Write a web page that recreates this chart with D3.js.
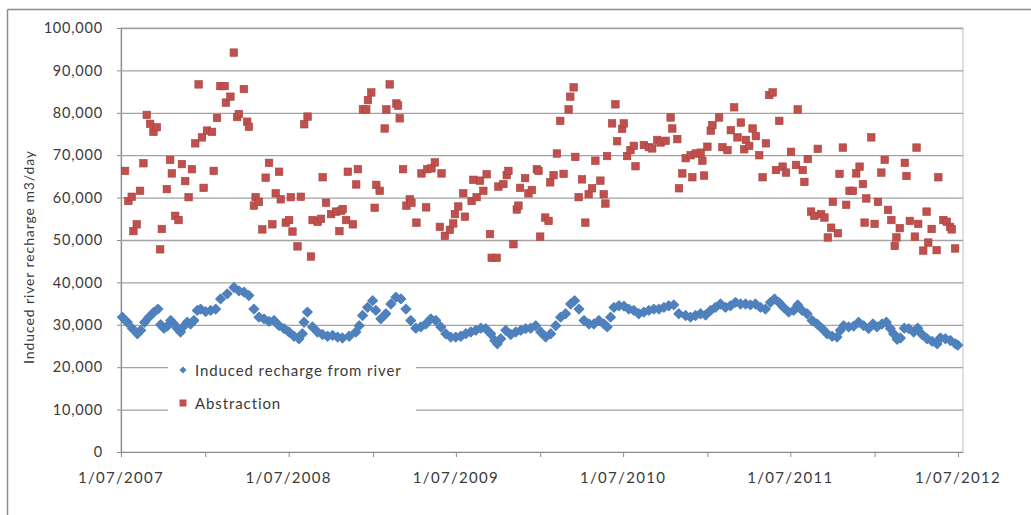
<!DOCTYPE html>
<html><head><meta charset="utf-8">
<script src="https://cdn.jsdelivr.net/npm/d3@7"></script>
<style>
body{margin:0;background:#fff;}
svg{display:block;}
text{font-family:Lato,"Open Sans",sans-serif;}
</style>
</head><body>
<svg id="chart" width="1031" height="515"></svg>
<script>
// ---------- data ----------
const seriesNames = ["Induced recharge from river", "Abstraction"];
const yTickValues = [0,10000,20000,30000,40000,50000,60000,70000,80000,90000,100000];
const xTickDates = ["2007-07-01","2008-01-01","2008-07-01","2009-01-01","2009-07-01","2010-01-01","2010-07-01","2011-01-01","2011-07-01","2012-01-01","2012-07-01"];
const xLabelDates = ["2007-07-01","2008-07-01","2009-07-01","2010-07-01","2011-07-01","2012-07-01"];
const yTitle = "Induced river recharge m3/day";

// time in decimal years, value m3/day
const rechargeT = [2007.504,2007.534,2007.564,2007.594,2007.614,2007.637,2007.663,2007.693,2007.717,2007.733,2007.753,2007.773,2007.793,2007.812,2007.833,2007.852,2007.872,2007.892,2007.912,2007.932,2007.952,2007.972,2008.002,2008.032,2008.062,2008.091,2008.131,2008.171,2008.201,2008.231,2008.260,2008.290,2008.320,2008.350,2008.380,2008.410,2008.440,2008.470,2008.499,2008.529,2008.559,2008.579,2008.589,2008.609,2008.639,2008.669,2008.699,2008.729,2008.759,2008.789,2008.818,2008.858,
2008.898,2008.918,2008.938,2008.968,2008.998,2009.017,2009.047,2009.077,2009.107,2009.137,2009.167,2009.197,2009.226,2009.256,2009.286,2009.316,2009.346,2009.376,2009.406,2009.435,2009.465,2009.495,2009.525,2009.555,2009.585,2009.615,2009.645,2009.674,2009.704,2009.728,2009.744,2009.764,2009.794,2009.824,2009.854,2009.884,2009.913,2009.943,2009.973,2010.003,2010.033,2010.063,2010.093,2010.122,2010.152,2010.182,2010.206,2010.232,2010.262,2010.292,2010.321,2010.351,2010.381,2010.401,2010.421,2010.441,2010.471,2010.501,2010.530,2010.560,2010.590,2010.620,2010.650,2010.680,2010.710,2010.740,2010.769,2010.799,2010.829,
2010.869,2010.899,2010.929,2010.959,2010.989,2011.019,2011.048,2011.078,2011.108,2011.138,2011.168,2011.198,2011.228,2011.257,2011.287,2011.317,2011.347,2011.377,2011.401,2011.427,2011.456,2011.486,2011.516,2011.540,2011.566,2011.596,2011.626,2011.656,2011.686,2011.716,2011.746,2011.775,2011.795,2011.815,2011.845,2011.875,2011.904,2011.934,2011.964,2011.990,2012.014,2012.044,2012.070,2012.094,2012.113,2012.134,2012.154,2012.177,2012.203,2012.233,2012.257,2012.283,2012.313,2012.343,2012.373,2012.392,2012.422,2012.452,2012.482,2012.496];
const rechargeV = [31800,30600,29100,27900,28700,30600,31800,33000,33700,30000,29200,29700,31000,30200,29100,28300,29700,30600,30200,31000,33400,33700,33100,33400,33700,36100,37300,38800,38000,37700,36900,33700,31800,31400,30800,31000,29800,29100,28300,27300,26700,27900,30600,33000,29500,28300,27700,27300,27500,27100,26900,27300,
28300,29800,32200,34100,35700,33400,31400,32600,34900,36500,36100,33700,31000,29200,29500,30200,31400,31000,29500,27900,27100,27100,27300,27900,28300,28700,29200,29100,27900,26300,25500,26700,28700,27700,28300,28700,29100,29200,29800,28300,27100,27900,29800,31800,32600,34900,35700,33700,31000,30200,30200,31000,30200,29500,31800,34100,34500,34400,33700,33400,32600,33000,33400,33700,33700,34100,34500,34700,32600,
32200,31800,32200,32600,32300,33400,34100,34900,34100,34500,35300,34900,34900,34700,34900,34100,33700,35300,36100,35300,34100,33000,33400,34700,33400,32600,31000,30200,29100,27900,27300,27100,28700,29800,29500,29700,30600,29800,29100,30200,29500,30200,30600,29100,27900,26600,26900,29200,29100,28300,29200,27700,26700,26100,25500,26900,26700,26300,25500,25200];

const abstractionT = [2007.52,2007.54,2007.56,2007.57,2007.59,2007.61,2007.63,2007.65,2007.67,2007.69,2007.71,2007.73,2007.74,2007.77,2007.79,2007.80,2007.82,2007.84,2007.86,2007.88,2007.90,2007.92,2007.94,2007.96,2007.98,2007.99,2008.01,2008.04,2008.05,2008.07,2008.09,2008.115,2008.123,2008.15,2008.17,2008.19,2008.20,2008.23,2008.25,2008.26,2008.29,2008.30,2008.32,2008.34,2008.36,2008.38,2008.40,2008.42,2008.44,2008.45,2008.48,2008.50,2008.51,2008.52,2008.55,2008.57,2008.59,2008.61,2008.63,2008.64,2008.67,2008.69,2008.70,2008.72,2008.75,2008.78,2008.80,2008.81,2008.82,2008.84,2008.85,2008.88,2008.90,2008.91,2008.94,2008.96,2008.97,2008.99,
2009.01,2009.02,2009.04,2009.07,2009.08,2009.10,2009.14,2009.15,2009.16,2009.18,2009.20,2009.22,2009.23,2009.26,2009.29,2009.318,2009.325,2009.35,2009.37,2009.40,2009.41,2009.43,2009.46,2009.48,2009.49,2009.51,2009.54,2009.55,2009.59,2009.60,2009.62,2009.64,2009.66,2009.68,2009.70,2009.71,2009.74,2009.75,2009.78,2009.80,2009.81,2009.84,2009.86,2009.87,2009.88,2009.91,2009.93,2009.95,2009.98,2009.99,
2010.00,2010.03,2010.05,2010.06,2010.08,2010.10,2010.12,2010.14,2010.17,2010.18,2010.20,2010.21,2010.23,2010.25,2010.27,2010.29,2010.31,2010.33,2010.36,2010.38,2010.39,2010.40,2010.43,2010.45,2010.46,2010.49,2010.50,2010.52,2010.54,2010.56,2010.57,2010.62,2010.65,2010.67,2010.70,2010.72,2010.75,2010.78,2010.79,2010.82,2010.83,2010.85,2010.87,2010.90,2010.91,2010.93,2010.96,2010.97,2010.98,
2011.00,2011.02,2011.03,2011.07,2011.09,2011.12,2011.14,2011.16,2011.18,2011.20,2011.22,2011.23,2011.25,2011.27,2011.29,2011.31,2011.33,2011.35,2011.37,2011.39,2011.41,2011.43,2011.45,2011.47,2011.50,2011.53,2011.54,2011.57,2011.58,2011.60,2011.62,2011.64,2011.66,2011.68,2011.70,2011.72,2011.74,2011.75,2011.78,2011.79,2011.81,2011.83,2011.85,2011.87,2011.89,2011.91,2011.93,2011.94,2011.95,2011.98,
2012.00,2012.02,2012.04,2012.06,2012.08,2012.10,2012.12,2012.13,2012.15,2012.18,2012.19,2012.21,2012.24,2012.25,2012.26,2012.29,2012.31,2012.32,2012.34,2012.37,2012.38,2012.41,2012.43,2012.45,2012.46,2012.48];
const abstractionV = [66300,59200,60200,52100,53700,61600,68100,79500,77400,75500,76600,47800,52600,62000,68900,65700,55700,54700,67900,63900,60100,66700,72800,86700,74200,62300,75800,75500,66300,78800,86300,86300,82400,83800,94200,79000,79700,85600,77900,76700,58100,60100,59000,52500,64700,68200,53700,61000,66100,59600,54100,54700,60100,52000,48500,60200,77300,79100,46100,54700,54300,55000,64800,58800,56100,56700,52100,56900,57300,54700,66100,53700,63100,66700,80800,80800,83000,84800,
57600,63000,61600,76300,80800,86700,82200,81700,78700,66700,58100,59600,58800,54100,65700,57700,66700,66900,68300,53100,65700,51000,52400,53900,56100,57900,61000,55500,59200,64200,60100,64000,61600,65500,51400,45800,45800,62600,63200,65300,66300,49000,57200,58100,62300,64600,61000,61800,66700,66300,
50800,55300,54500,63600,65300,70400,78100,65600,80800,83800,86000,69600,60100,64300,54100,60800,62200,68700,64000,60800,58600,69800,77500,82000,73300,76200,77500,69800,71200,72200,67400,72400,71900,71600,73600,73000,73400,78900,76300,73800,62200,65700,69300,70000,64800,70400,70600,68700,65200,
72000,75800,77100,78900,71900,71200,75900,81300,74200,77700,71400,73600,72200,76300,74500,70000,64800,72800,84200,84800,66500,78100,67300,65900,70800,67700,80800,66500,63700,69100,56700,55700,71500,56100,55300,50600,52900,59000,51600,65600,71800,58300,61600,61600,65700,67300,63200,54100,59800,74200,
53800,59000,65900,68900,57100,54700,48600,50600,52800,68200,65100,54500,50800,71800,53800,47500,56700,49400,52600,47600,64800,54700,54300,53100,52500,48000];

// ---------- helpers ----------
function decYear(t){
  const y = Math.floor(t);
  const s = Date.UTC(y,0,1), e = Date.UTC(y+1,0,1);
  return new Date(s + (t - y) * (e - s));
}
const parse = d3.utcParse("%Y-%m-%d");
const fmtLabel = d => "1/" + d3.utcFormat("%m")(d) + "/" + d3.utcFormat("%Y")(d);

const recharge = rechargeT.map((t,i)=>({date:decYear(t), value:rechargeV[i]}));
const abstraction = abstractionT.map((t,i)=>({date:decYear(t), value:abstractionV[i]}));

// ---------- layout ----------
const svg = d3.select("#chart");
const plot = {left:121, right:963, top:28, bottom:452};
const x = d3.scaleUtc().domain([parse("2007-07-01"), parse("2012-07-01")]).range([121, 958]);
const y = d3.scaleLinear().domain([0, 100000]).range([plot.bottom, plot.top]);
const blue = "#4F81BD", red = "#C0504D", textCol = "#3a3a3a";

// outer frame (top & left edges visible)
svg.append("line").attr("x1",7.5).attr("x2",1031).attr("y1",9.5).attr("y2",9.5).attr("stroke","#8c8c8c").attr("stroke-width",1.5);
svg.append("line").attr("x1",7.5).attr("x2",7.5).attr("y1",9.5).attr("y2",515).attr("stroke","#8c8c8c").attr("stroke-width",1.5);

// plot area border (top & right)
svg.append("rect").attr("x",plot.left).attr("y",plot.top).attr("width",plot.right-plot.left).attr("height",plot.bottom-plot.top)
  .attr("fill","none").attr("stroke","#d4d4d4").attr("stroke-width",1.5);

// y axis with gridlines
const yAxis = d3.axisLeft(y).tickValues(yTickValues).tickSize(4).tickFormat(d3.format(","));
const gy = svg.append("g").attr("transform",`translate(${plot.left},0)`).call(yAxis);
gy.select(".domain").attr("stroke","#8c8c8c").attr("stroke-width",1.2);
gy.selectAll(".tick line").attr("stroke","#8c8c8c");
gy.selectAll(".tick text").attr("x",-18).attr("fill",textCol).style("font-size","14.5px").style("letter-spacing","0.8px");
gy.selectAll(".tick").filter(d=>d>0).append("line")
  .attr("x1",0).attr("x2",plot.right-plot.left).attr("stroke","#a3a3a3").attr("stroke-width",1.3);

// x axis
const xAxis = d3.axisBottom(x).tickValues(xTickDates.map(parse)).tickSize(5).tickFormat(()=> "");
const gx = svg.append("g").attr("transform",`translate(0,${plot.bottom})`).call(xAxis);
gx.select(".domain").attr("d",`M${plot.left},0.5H${plot.right}`).attr("stroke","#8c8c8c").attr("stroke-width",1.2);
gx.selectAll(".tick line").attr("stroke","#8c8c8c");
svg.append("g").selectAll("text").data(xLabelDates.map(parse)).join("text")
  .attr("x",d=>x(d)).attr("y",483).attr("text-anchor","middle")
  .attr("fill",textCol).style("font-size","15px").style("letter-spacing","1.3px")
  .text(fmtLabel);

// y title
svg.append("text").attr("transform","translate(34,257) rotate(-90)").attr("text-anchor","middle")
  .attr("fill",textCol).style("font-size","14px").style("letter-spacing","0.9px").text(yTitle);

// legend box (covers gridlines)
const lg = svg.append("g");
lg.append("rect").attr("x",168).attr("y",352).attr("width",248).attr("height",68).attr("fill","#fff");

// markers
const diamond = d3.symbol().type(d3.symbolSquare).size(44);
svg.append("g").selectAll("path").data(recharge).join("path")
  .attr("d",diamond()).attr("fill",blue).attr("stroke",blue).attr("stroke-width",1.4).attr("stroke-linejoin","round")
  .attr("transform",d=>`translate(${x(d.date)},${y(d.value)}) rotate(45)`);
svg.append("g").selectAll("rect").data(abstraction).join("rect")
  .attr("x",d=>x(d.date)-3.75).attr("y",d=>y(d.value)-3.75).attr("width",7.5).attr("height",7.5)
  .attr("fill",red).attr("stroke","#a8403d").attr("stroke-width",0.6);

// legend entries
lg.append("path").attr("d",d3.symbol().type(d3.symbolSquare).size(26)()).attr("fill",blue).attr("transform","translate(183,370) rotate(45)");
lg.append("text").attr("x",195).attr("y",376).attr("fill",textCol).style("font-size","15px").style("letter-spacing","0.9px").text(seriesNames[0]);
lg.append("rect").attr("x",179.5).attr("y",399.5).attr("width",7).attr("height",7).attr("fill",red);
lg.append("text").attr("x",195).attr("y",409).attr("fill",textCol).style("font-size","15px").style("letter-spacing","0.9px").text(seriesNames[1]);
</script>
</body></html>
